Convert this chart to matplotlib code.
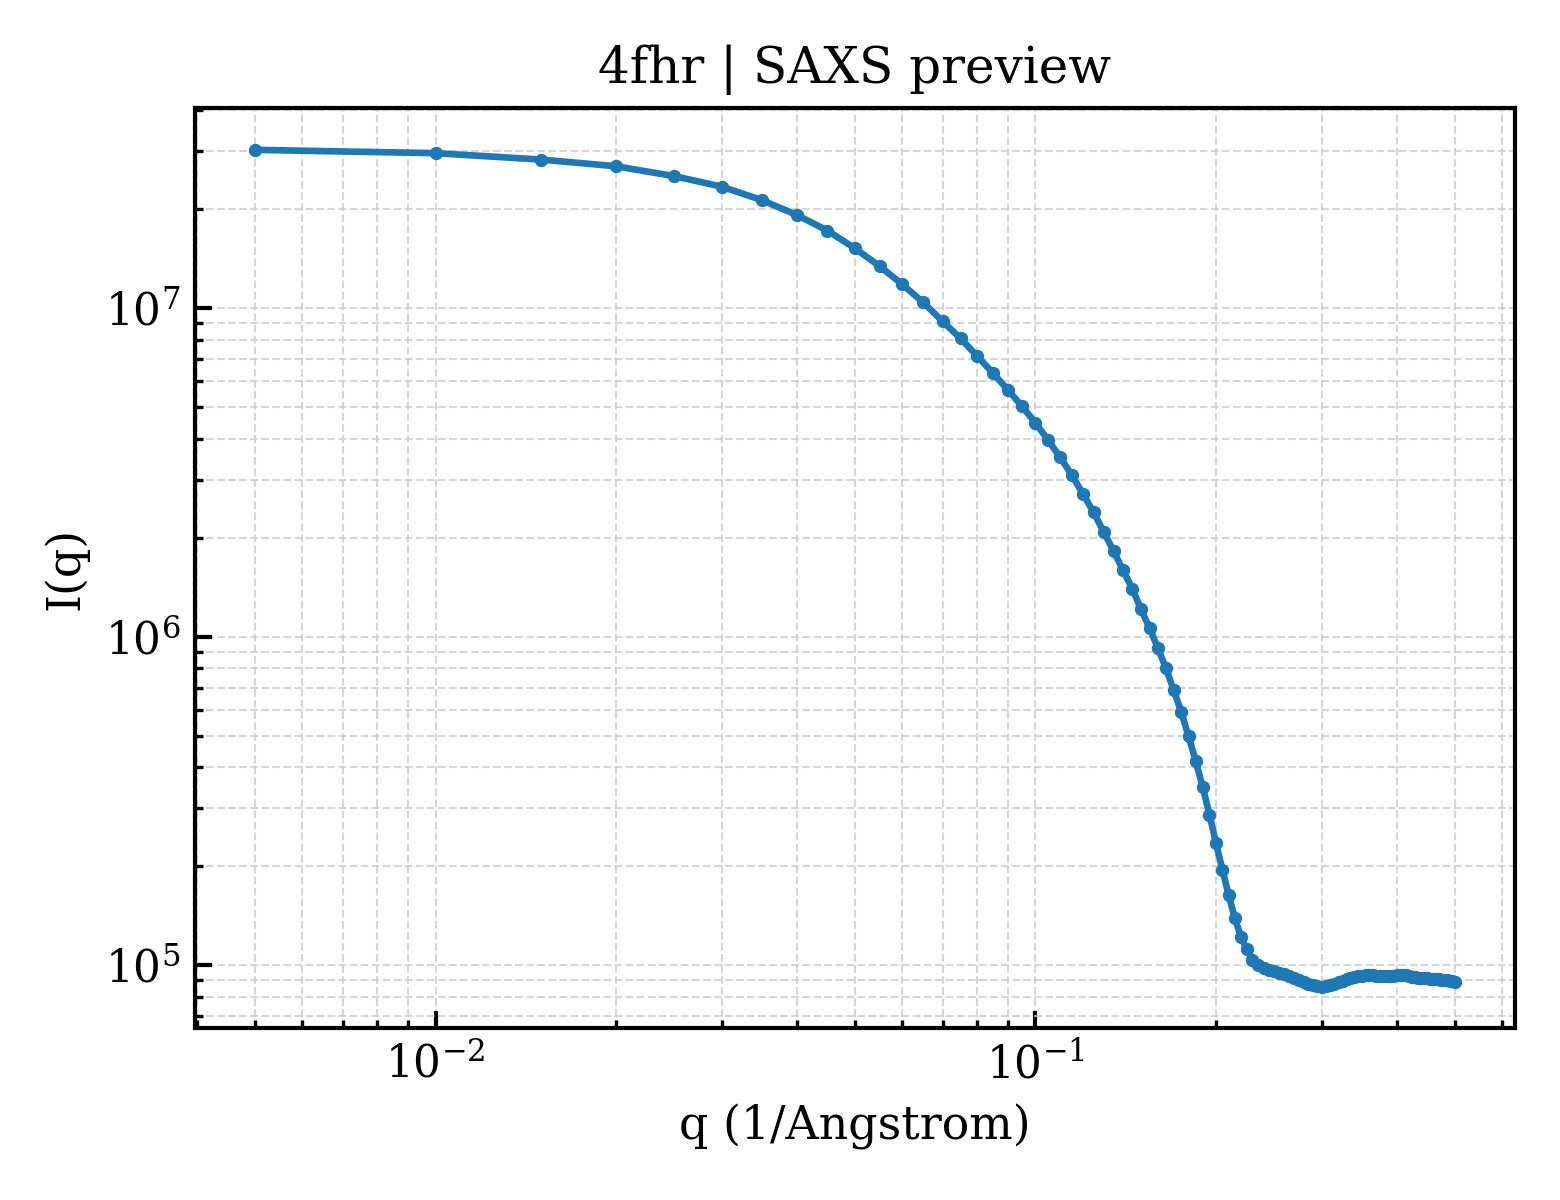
import numpy as np
import matplotlib
matplotlib.use("Agg")
import matplotlib.pyplot as plt

# SAXS profile (q in 1/Angstrom, intensity in arbitrary units)
q = [0.005, 0.010, 0.015, 0.020, 0.025, 0.030, 0.035, 0.040, 0.045, 0.050,
     0.055, 0.060, 0.065, 0.070, 0.075, 0.080, 0.085, 0.090, 0.095, 0.100,
     0.105, 0.110, 0.115, 0.120, 0.125, 0.130, 0.135, 0.140, 0.145, 0.150,
     0.155, 0.160, 0.165, 0.170, 0.175, 0.180, 0.185, 0.190, 0.195, 0.200,
     0.205, 0.210, 0.215, 0.220, 0.225, 0.230, 0.235, 0.240, 0.245, 0.250,
     0.255, 0.260, 0.265, 0.270, 0.275, 0.280, 0.285, 0.290, 0.295, 0.300,
     0.305, 0.310, 0.315, 0.320, 0.325, 0.330, 0.335, 0.340, 0.345, 0.350,
     0.355, 0.360, 0.365, 0.370, 0.375, 0.380, 0.385, 0.390, 0.395, 0.400,
     0.405, 0.410, 0.415, 0.420, 0.425, 0.430, 0.435, 0.440, 0.445, 0.450,
     0.455, 0.460, 0.465, 0.470, 0.475, 0.480, 0.485, 0.490, 0.495, 0.500]

intensity = [3.03e7, 2.96e7, 2.83e7, 2.70e7, 2.52e7, 2.34e7, 2.13e7, 1.92e7, 1.72e7, 1.52e7,
             1.34e7, 1.18e7, 1.04e7, 9.11e6, 8.09e6, 7.13e6, 6.33e6, 5.63e6, 5.02e6, 4.47e6,
             3.96e6, 3.51e6, 3.10e6, 2.72e6, 2.39e6, 2.08e6, 1.82e6, 1.59e6, 1.40e6, 1.21e6,
             1.06e6, 9.23e5, 8.02e5, 6.87e5, 5.90e5, 4.97e5, 4.18e5, 3.49e5, 2.87e5, 2.35e5,
             1.95e5, 1.63e5, 1.39e5, 1.22e5, 1.12e5, 1.04e5, 1.00e5, 9.82e4, 9.68e4, 9.57e4,
             9.47e4, 9.37e4, 9.27e4, 9.16e4, 9.03e4, 8.90e4, 8.78e4, 8.69e4, 8.63e4, 8.61e4,
             8.63e4, 8.69e4, 8.77e4, 8.86e4, 8.96e4, 9.06e4, 9.15e4, 9.22e4, 9.27e4, 9.30e4,
             9.32e4, 9.32e4, 9.31e4, 9.29e4, 9.27e4, 9.26e4, 9.26e4, 9.27e4, 9.29e4, 9.32e4,
             9.34e4, 9.34e4, 9.31e4, 9.27e4, 9.23e4, 9.19e4, 9.16e4, 9.14e4, 9.13e4, 9.12e4,
             9.11e4, 9.10e4, 9.08e4, 9.06e4, 9.04e4, 9.02e4, 9.00e4, 8.97e4, 8.94e4, 8.91e4]

plt.rcParams["font.family"] = "DejaVu Serif"
plt.rcParams["mathtext.fontset"] = "dejavuserif"

fig, ax = plt.subplots(figsize=(5.2, 4.0), dpi=300)
fig.subplots_adjust(left=0.125, right=0.971, bottom=0.143, top=0.91)

ax.plot(q, intensity, marker="o", markersize=2.2, linewidth=1.6, color="#1f77b4")
ax.set_xscale("log")
ax.set_yscale("log")

ax.set_title("4fhr | SAXS preview", fontsize=12)
ax.set_xlabel("q (1/Angstrom)", fontsize=11)
ax.set_ylabel("I(q)", fontsize=11)

ax.grid(True, which="both", linestyle="--", linewidth=0.5, color="#cccccc", alpha=0.8)
ax.tick_params(which="both", direction="in", labelsize=10.5)
ax.tick_params(which="major", length=4, width=1.0)
ax.tick_params(which="minor", length=2, width=0.8)
for spine in ax.spines.values():
    spine.set_linewidth(1.0)

fig.savefig("out.png", dpi=300)
